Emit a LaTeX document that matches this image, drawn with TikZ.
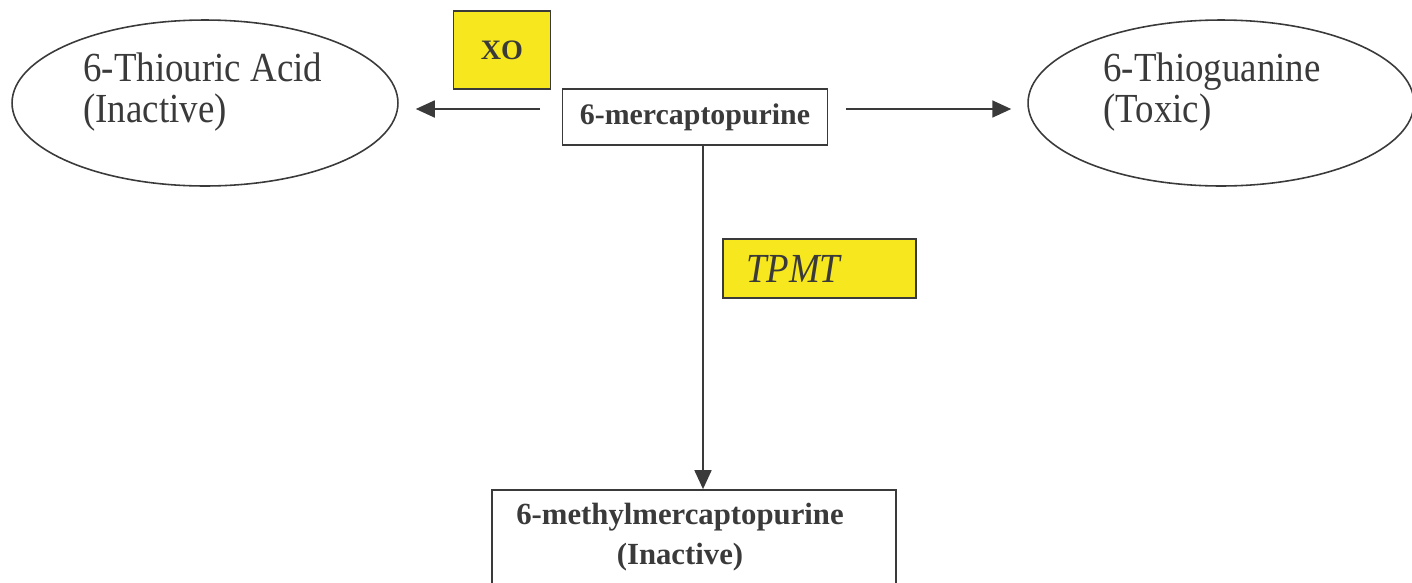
\documentclass[tikz,border=0pt]{standalone}
\usepackage{graphicx}
\usepackage{fontspec}
\setmainfont{Liberation Serif}
\usetikzlibrary{shapes.geometric,arrows.meta}
\definecolor{ink}{RGB}{58,58,58}
\definecolor{enzyme}{RGB}{246,231,30}
\newcommand{\tallrow}[1]{\scalebox{1}[1.12]{#1}}
\begin{document}
\begin{tikzpicture}[x=0.02cm,y=-0.02cm]
\tikzstyle{blob}=[draw=ink,line width=0.9pt,shape=ellipse,minimum width=7.72cm,minimum height=3.32cm]
\tikzstyle{box}=[draw=ink,line width=1pt,shape=rectangle,inner sep=0pt,text=ink]
\tikzstyle{tag}=[box,fill=enzyme]
\tikzstyle{plain}=[text=ink,font=\fontsize{21}{23}\selectfont,align=left,inner sep=0pt]
\tikzstyle{heavy}=[text=ink,font=\fontsize{17.5}{22.8}\selectfont\bfseries,align=center,inner sep=0pt]
\tikzstyle{flow}=[draw=ink,line width=1pt,-{Triangle[length=0.38cm,width=0.34cm]}]
\useasboundingbox (0,0) rectangle (1412,582);
\path (205,103) node[blob](thiouric){}
      (1221,103) node[blob](thioguanine){}
      (502,50) node[tag,minimum width=1.94cm,minimum height=1.56cm,font=\fontsize{16}{18}\selectfont\bfseries](xo){XO}
      (695,117) node[box,minimum width=5.3cm,minimum height=1.12cm,font=\fontsize{17}{20}\selectfont\bfseries](mp){6-mercaptopurine}
      (819.5,268.5) node[tag,minimum height=1.18cm,text width=2.94cm,inner xsep=0.46cm,align=left,font=\fontsize{21}{23}\selectfont\itshape](tpmt){\tallrow{TPMT}}
      (694,550) node[box,minimum width=8.08cm,minimum height=2.4cm](methyl){};
\node[plain,anchor=west] (thiouric text) at (83,92) {\tallrow{6-Thiouric Acid}\\\tallrow{(Inactive)}};
\node[plain,anchor=west] (thioguanine text) at (1103,92) {\tallrow{6-Thioguanine}\\\tallrow{(Toxic)}};
\node[heavy] (methyl text) at (680,537) {6-methylmercaptopurine\\(Inactive)};
\coordinate (axis) at (0,109);
\coordinate (stem) at (703,0);
\draw[flow,shorten <=0.43cm,shorten >=0.34cm] (mp.west |- axis) -- (thiouric.east |- axis);
\draw[flow,shorten <=0.35cm,shorten >=0.32cm] (mp.east |- axis) -- (thioguanine.west |- axis);
\draw[flow] (mp.south -| stem) -- (methyl.north -| stem);
\end{tikzpicture}
\end{document}
